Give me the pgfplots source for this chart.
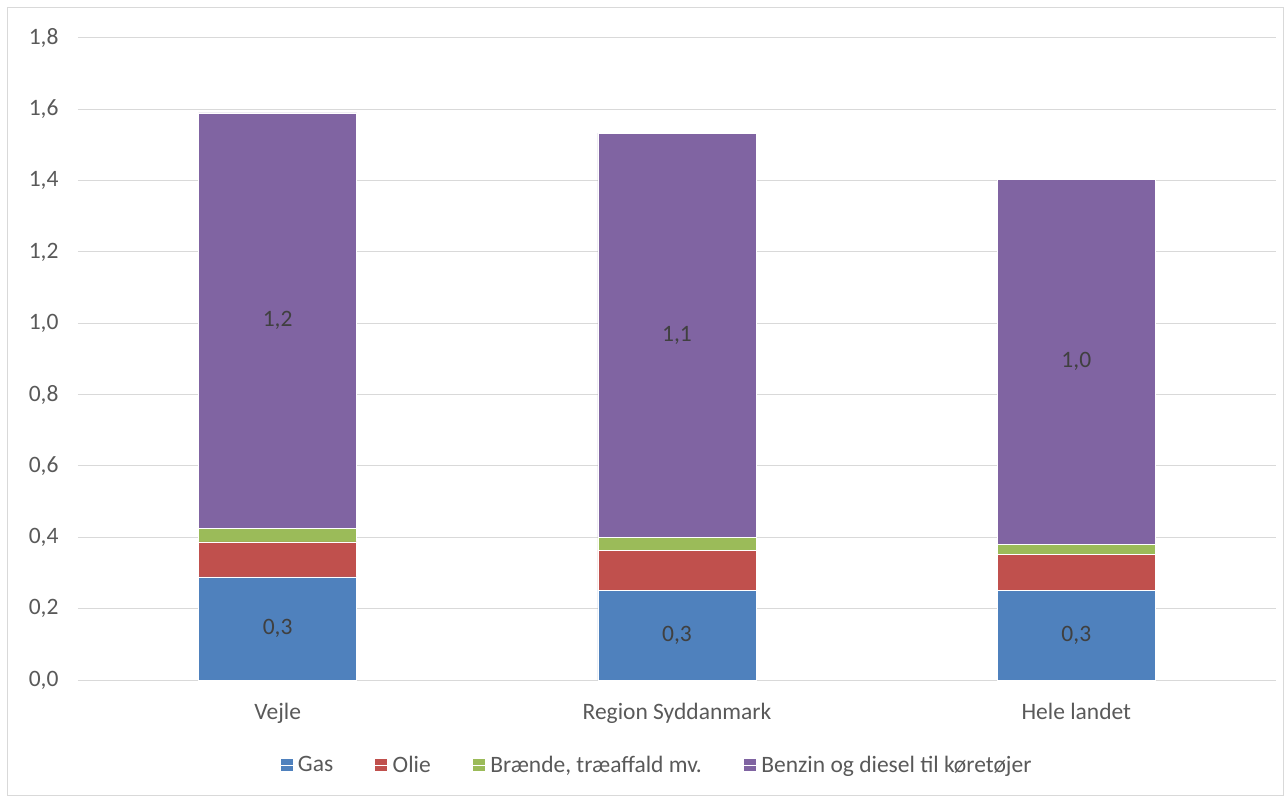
\documentclass[border=0pt]{standalone}
\usepackage{pgfplots}
\pgfplotsset{compat=1.18}
\usepackage{fontspec}
\setmainfont{Carlito}
\definecolor{cgas}{HTML}{4F81BD}
\definecolor{colie}{HTML}{C0504D}
\definecolor{cbr}{HTML}{9BBB59}
\definecolor{cben}{HTML}{8064A2}
\definecolor{cgrid}{HTML}{D9D9D9}
\definecolor{ctick}{HTML}{595959}
\definecolor{clab}{HTML}{404040}
\begin{document}
\begin{tikzpicture}
\path (-78bp,-116bp) rectangle (1206bp,680bp);
\draw[cgrid, line width=1bp] (-70bp,-115.5bp) rectangle (1205.5bp,672bp);
\begin{axis}[
  at={(0,0)}, anchor=south west,
  scale only axis, width=1198bp, height=642bp,
  ybar stacked, bar width=158bp,
  xmin=-0.5, xmax=2.5, ymin=0, ymax=1.8,
  xtick={0,1,2}, xticklabels={Vejle,Region Syddanmark,Hele landet},
  ytick={0,0.2,0.4,0.6,0.8,1.0,1.2,1.4,1.6,1.8},
  ymajorgrids, grid style={cgrid, line width=1bp},
  axis line style={draw=none},
  major tick length=0pt,
  /pgf/number format/.cd, use comma, fixed, fixed zerofill, precision=1, assume math mode=true,
  /pgfplots/.cd,
  tick label style={font=\fontsize{23.5bp}{28bp}\selectfont, text=ctick},
  yticklabel style={xshift=-16bp},
  xticklabel style={yshift=-20bp},
  legend columns=4,
  legend style={draw=none, fill=none, at={(0.4833,-0.1324)}, anchor=center,
    font=\fontsize{23.5bp}{28bp}\selectfont, text=ctick,
    /tikz/every even column/.append style={column sep=40bp}},
  legend image code/.code={\fill[#1, draw=none] (0bp,-6bp) rectangle (12bp,6bp);\path (0bp,0bp) -- (15bp,0bp);},
  lbl/.style={nodes near coords,
    nodes near coords style={anchor=center,
      font=\fontsize{23.5bp}{28bp}\selectfont, text=clab}},
]
\addplot[fill=cgas, draw=white, line width=0.5bp, lbl] coordinates {(0,0.289) (1,0.252) (2,0.252)};
\addplot[fill=colie, draw=white, line width=0.5bp] coordinates {(0,0.098) (1,0.112) (2,0.100)};
\addplot[fill=cbr, draw=white, line width=0.5bp] coordinates {(0,0.039) (1,0.036) (2,0.028)};
\addplot[fill=cben, draw=white, line width=0.5bp, lbl] coordinates {(0,1.164) (1,1.133) (2,1.024)};
\legend{Gas, Olie, {Brænde, træaffald mv.}, Benzin og diesel til køretøjer}
\end{axis}
\end{tikzpicture}
\end{document}
